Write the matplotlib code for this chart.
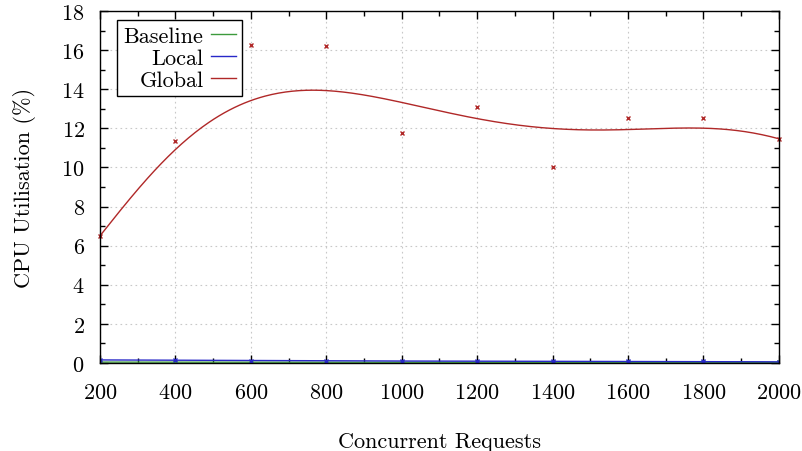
import numpy as np
import matplotlib
matplotlib.use('Agg')
import matplotlib.pyplot as plt
from matplotlib.ticker import MultipleLocator
from math import comb

plt.rcParams['font.family'] = ['cmr10', 'DejaVu Serif']
plt.rcParams['axes.formatter.use_mathtext'] = True
plt.rcParams['mathtext.fontset'] = 'cm'

requests = [200, 400, 600, 800, 1000, 1200, 1400, 1600, 1800, 2000]
baseline = [0.04, 0.04, 0.03, 0.03, 0.03, 0.03, 0.03, 0.03, 0.03, 0.03]
local = [0.15, 0.14, 0.12, 0.10, 0.09, 0.08, 0.08, 0.07, 0.07, 0.05]
global_ = [6.5, 11.36, 16.29, 16.2, 11.78, 13.1, 10.0, 12.51, 12.51, 11.47]

FS = 16


def bezier(xs, ys, n=400):
    # smooth curve using the data points as bezier control points
    xs = np.asarray(xs, float)
    ys = np.asarray(ys, float)
    deg = len(xs) - 1
    t = np.linspace(0, 1, n)
    w = np.array([comb(deg, k) * t**k * (1 - t)**(deg - k) for k in range(deg + 1)])
    return w.T @ xs, w.T @ ys


fig = plt.figure(figsize=(8.03, 4.52), dpi=100)
ax = fig.add_axes([0.1245, 0.195, 0.8455, 0.778])

green = '#3c9a3c'
blue = '#2828c8'
red = '#b02828'

bx, by = bezier(requests, baseline)
ax.plot(bx, by, color=green, lw=1, label='Baseline')
ax.plot(requests, baseline, 'x', color=green, ms=3, mew=1)

lx, ly = bezier(requests, local)
ax.plot(lx, ly, color=blue, lw=1, label='Local')
ax.plot(requests, local, 'x', color=blue, ms=3, mew=1)

gx, gy = bezier(requests, global_)
ax.plot(gx, gy, color=red, lw=1, label='Global')
ax.plot(requests, global_, 'x', color=red, ms=3.5, mew=1, clip_on=False)

ax.set_xlim(200, 2000)
ax.set_ylim(0, 18)
ax.xaxis.set_major_locator(MultipleLocator(200))
ax.xaxis.set_minor_locator(MultipleLocator(100))
ax.yaxis.set_major_locator(MultipleLocator(2))
ax.yaxis.set_minor_locator(MultipleLocator(1))
ax.tick_params(which='both', direction='in', top=True, right=True, labelsize=FS, width=1)
ax.tick_params(which='major', length=6)
ax.tick_params(which='minor', length=3.5)
ax.tick_params(axis='x', pad=14)
ax.tick_params(axis='y', pad=11)
for s in ax.spines.values():
    s.set_linewidth(1)

ax.grid(True, which='major', color='#c8c8c8', linestyle=(0, (1.5, 3)), lw=0.8)

ax.set_xlabel('Concurrent Requests', fontsize=FS, labelpad=21)
ax.set_ylabel('CPU Utilisation (%)', fontsize=FS, labelpad=18)

leg = ax.legend(loc='upper left', bbox_to_anchor=(0.025, 0.975), markerfirst=False,
                fontsize=FS, handlelength=1.1, fancybox=False, edgecolor='black',
                framealpha=1, borderaxespad=0, borderpad=0.3, labelspacing=0.1,
                handletextpad=0.35)
leg.get_frame().set_linewidth(1)

fig.savefig('out.png', dpi=100)
